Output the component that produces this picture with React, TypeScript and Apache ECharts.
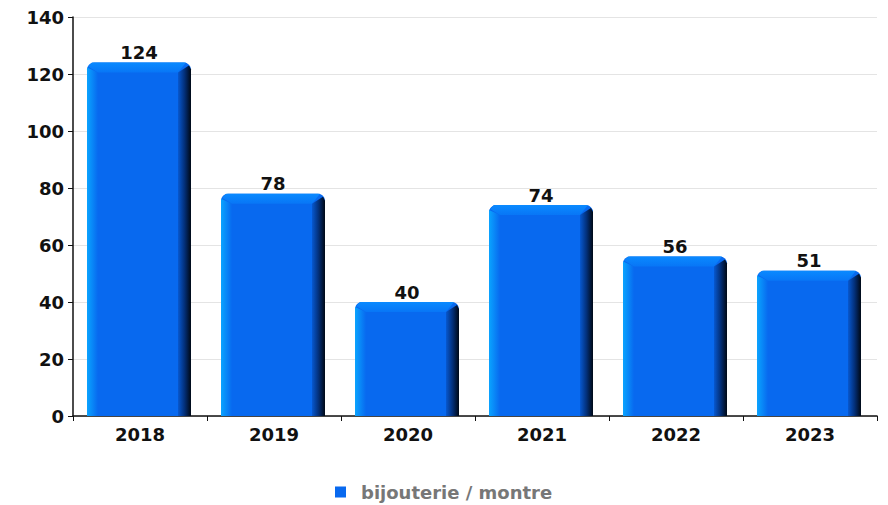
import React, { useEffect, useRef } from "react";
import * as echarts from "echarts";

const categories = ["2018", "2019", "2020", "2021", "2022", "2023"];
const values = [124, 78, 40, 74, 56, 51];
const seriesName = "bijouterie / montre";
const yTicks = { min: 0, max: 140, interval: 20 };

const FONT = "DejaVu Sans";

export default function App() {
  const ref = useRef<HTMLDivElement>(null);
  useEffect(() => {
    if (!ref.current) return;
    const chart = echarts.init(ref.current, undefined, { renderer: "svg" });
    const renderItem = (params: any, api: any) => {
      const idx = api.value(0);
      const val = api.value(1);
      const top = api.coord([idx, val]);
      const bot = api.coord([idx, 0]);
      const band = api.size([1, 0])[0];
      const w = band * 0.776;
      const x0 = top[0] - w / 2 - 1;
      const x1 = x0 + w;
      const yT = top[1];
      const yB = bot[1];
      const main = "#0869ef";
      return {
        type: "group",
        children: [
          {
            type: "rect",
            shape: { x: x0, y: yT, width: w, height: yB - yT, r: [7, 7, 0, 0] },
            style: { fill: main },
          },
          {
            type: "polygon",
            shape: { points: [[x0, yT + 5], [x0 + 11, yT + 10], [x0 + 11, yB], [x0, yB]] },
            style: {
              fill: new echarts.graphic.LinearGradient(0, 0, 1, 0, [
                { offset: 0, color: "#0aa4ff" },
                { offset: 1, color: main },
              ]),
            },
          },
          {
            type: "polygon",
            shape: { points: [[x0 + 5, yT], [x1 - 5, yT], [x1 - 13, yT + 10], [x0 + 11, yT + 10], [x0 + 1, yT + 4]] },
            style: {
              fill: new echarts.graphic.LinearGradient(0, 0, 0, 1, [
                { offset: 0, color: "#0a8aff" },
                { offset: 1, color: "#0876f6" },
              ]),
            },
          },
          {
            type: "polygon",
            shape: { points: [[x1 - 2, yT + 3], [x1, yT + 7], [x1, yB], [x1 - 13, yB], [x1 - 13, yT + 10]] },
            style: {
              fill: new echarts.graphic.LinearGradient(0, 0, 1, 0, [
                { offset: 0, color: "#0758d0" },
                { offset: 0.5, color: "#03307a" },
                { offset: 1, color: "#000814" },
              ]),
            },
          },
          {
            type: "text",
            style: {
              text: String(val),
              x: (x0 + x1) / 2,
              y: yT - 1,
              align: "center",
              verticalAlign: "bottom",
              fill: "#111",
              font: `bold 18px "${FONT}"`,
            },
          },
        ],
      };
    };
    chart.setOption({
      animation: false,
      backgroundColor: "#fff",
      grid: { left: 73, right: 11, top: 17, bottom: 89, containLabel: false },
      legend: {
        top: 482,
        left: 335,
        padding: 0,
        icon: "path://M0,0L11,0L11,11L0,11Z M21,0L21.01,0L21.01,0.01Z",
        itemWidth: 21,
        itemHeight: 11,
        data: [seriesName],
        textStyle: { fontFamily: FONT, fontWeight: "bold", fontSize: 18, color: "#777", lineHeight: 20 },
      },
      xAxis: {
        type: "category",
        data: categories,
        axisLine: { lineStyle: { color: "#111", width: 1.5 } },
        axisTick: { show: true, length: 5, alignWithLabel: false, lineStyle: { color: "#111" } },
        axisLabel: { fontFamily: FONT, fontWeight: "bold", fontSize: 18, color: "#111", margin: 9 },
      },
      yAxis: {
        type: "value",
        min: yTicks.min,
        max: yTicks.max,
        interval: yTicks.interval,
        axisLine: { show: true, lineStyle: { color: "#111", width: 1.5 } },
        axisTick: { show: true, length: 5, lineStyle: { color: "#111" } },
        axisLabel: { fontFamily: FONT, fontWeight: "bold", fontSize: 18, color: "#111", margin: 9 },
        splitLine: { lineStyle: { color: "#e4e4e4" } },
      },
      series: [
        {
          type: "custom",
          name: seriesName,
          itemStyle: { color: "#0869ef" },
          renderItem,
          encode: { x: 0, y: 1 },
          data: values.map((v, i) => [i, v]),
        },
      ],
    });
    return () => chart.dispose();
  }, []);
  return (
    <div
      ref={ref}
      style={{ position: "absolute", left: 0, top: 0, width: 888, height: 505 }}
    />
  );
}
